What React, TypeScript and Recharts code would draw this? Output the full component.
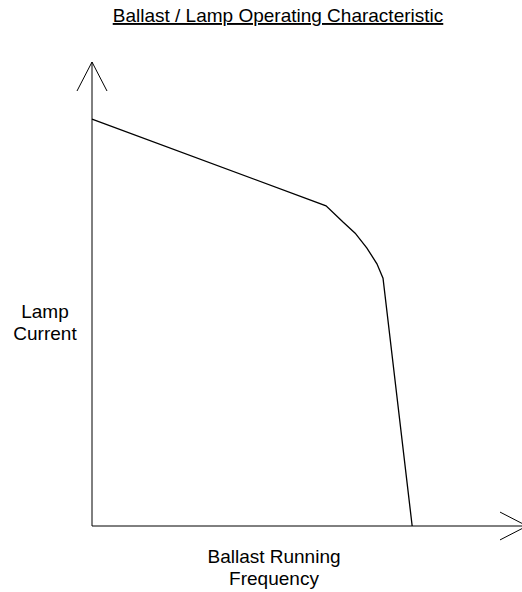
import React from 'react'
import { LineChart, Line, XAxis, YAxis, ReferenceLine, Customized } from 'recharts'

// arbitrary units: frequency 0..100 along x, lamp current 0..100 along y
const frequency = [0, 53.8, 57.7, 60.5, 63.2, 65.5, 66.9, 73.6]
const lampCurrent = [87.7, 69.0, 65.5, 63.1, 59.9, 56.5, 53.4, 0]

const title = 'Ballast / Lamp Operating Characteristic'
const yLabel = ['Lamp', 'Current']
const xLabel = ['Ballast Running', 'Frequency']

// open arrowheads at the axis ends (data units)
const yArrow = { tip: 100, wingX: 3.45, wingY: 93.75 }
const xArrow = { tip: 100, wingX: 93.8, wingY: 3.0 }

const data = frequency.map((f, i) => ({ f, c: lampCurrent[i] }))

const FONT = '"Liberation Sans", Arial, sans-serif'

const Labels = () => (
  <g fontFamily={FONT} fill="#000">
    <text x={278} y={22} fontSize={19} textAnchor="middle" textDecoration="underline">
      {title}
    </text>
    {yLabel.map((t, i) => (
      <text key={t} x={45} y={318 + i * 22} fontSize={19} textAnchor="middle">
        {t}
      </text>
    ))}
    {xLabel.map((t, i) => (
      <text key={t} x={274} y={563 + i * 22} fontSize={19} textAnchor="middle">
        {t}
      </text>
    ))}
  </g>
)

export default function App() {
  return (
    <div style={{ position: 'absolute', left: 0, top: 0, width: 522, height: 592, overflow: 'hidden', background: '#fff' }}>
      <LineChart width={530} height={592} data={data} margin={{ top: 62, right: 3, left: 92, bottom: 66 }}>
        <XAxis dataKey="f" type="number" domain={[0, 100]} hide />
        <YAxis type="number" domain={[0, 100]} hide />
        {/* axes */}
        <ReferenceLine segment={[{ x: 0, y: 0 }, { x: 0, y: yArrow.tip }]} stroke="#000" ifOverflow="visible" />
        <ReferenceLine segment={[{ x: 0, y: 0 }, { x: xArrow.tip, y: 0 }]} stroke="#000" ifOverflow="visible" />
        {/* arrowheads */}
        <ReferenceLine segment={[{ x: -yArrow.wingX, y: yArrow.wingY }, { x: 0, y: yArrow.tip }]} stroke="#000" ifOverflow="visible" />
        <ReferenceLine segment={[{ x: yArrow.wingX, y: yArrow.wingY }, { x: 0, y: yArrow.tip }]} stroke="#000" ifOverflow="visible" />
        <ReferenceLine segment={[{ x: xArrow.wingX, y: xArrow.wingY }, { x: xArrow.tip, y: 0 }]} stroke="#000" ifOverflow="visible" />
        <ReferenceLine segment={[{ x: xArrow.wingX, y: -xArrow.wingY }, { x: xArrow.tip, y: 0 }]} stroke="#000" ifOverflow="visible" />
        <Line dataKey="c" type="linear" stroke="#000" strokeWidth={1.3} dot={false} isAnimationActive={false} />
        <Customized component={Labels} />
      </LineChart>
    </div>
  )
}
